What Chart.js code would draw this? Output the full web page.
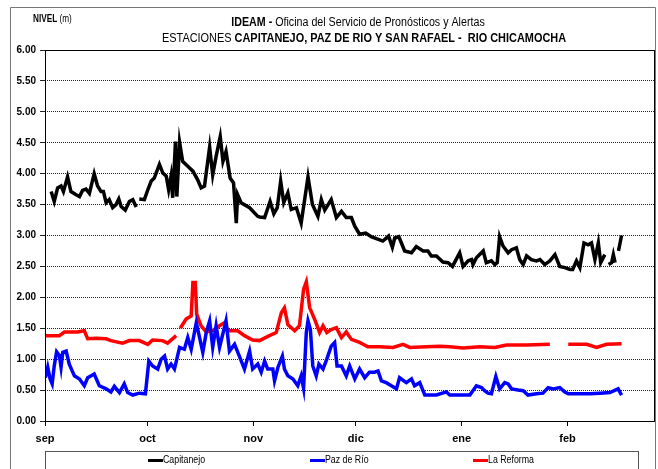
<!DOCTYPE html>
<html>
<head>
<meta charset="utf-8">
<script src="https://cdn.jsdelivr.net/npm/chart.js@4"></script>
<style>
  body { margin: 0; background: #fff; }
  canvas { display: block; }
</style>
</head>
<body>
<canvas id="grafica" width="658" height="469"></canvas>
<script>
// dias contados desde el 1 de septiembre
const inicioMes = [0, 30, 61, 91, 122, 153];
const etiquetasMes = ["sep", "oct", "nov", "dic", "ene", "feb"];
const nivelesY = [0, 0.5, 1, 1.5, 2, 2.5, 3, 3.5, 4, 4.5, 5, 5.5, 6];

// Capitanejo (negro)
const capDias = [1.8, 2.7, 3.7, 4.7, 5.4, 6.6, 7.6, 9.1, 10.1, 11.0, 12.0, 13.0, 14.4, 15.4, 16.4, 17.1, 17.9, 18.8, 19.8, 20.8, 21.6, 22.3, 23.5, 24.7, 25.7, 26.7, 27.1,
  27.6, 29.1, 30.1, 31.1, 32.0, 33.5, 34.5, 35.5, 36.2, 36.9, 37.4, 38.2, 38.6, 39.4, 40.3, 41.8, 43.3, 44.7, 45.7, 46.7, 48.2, 49.1, 50.1, 51.3, 52.1, 53.0, 54.2, 55.2,
  56.0, 56.4, 57.4, 59.9, 62.3, 62.8, 64.3, 65.9, 67.0, 68.0, 69.0, 69.9, 71.1, 72.1, 73.6, 75.0, 77.0, 78.3, 79.9, 80.9, 81.9, 83.8, 85.3, 86.8, 88.2, 89.7,
  90.7, 92.1, 93.9, 95.5, 97.0, 98.9, 100.6, 101.7, 102.4, 103.6, 105.3, 107.3, 108.7, 110.7, 112.1, 113.1, 114.6, 116.5, 118.0, 119.3, 121.4, 122.4, 123.9,
  124.9, 125.3, 126.3, 128.3, 129.2, 130.7, 131.7, 132.4, 133.1, 134.1, 135.6, 136.6, 138.0, 139.0, 140.0, 141.0, 142.4, 143.9, 144.9, 146.3, 147.8, 149.3,
  150.7, 152.2, 153.7, 154.5, 155.6, 156.6, 157.8, 159.0, 160.0, 161.0, 162.0, 162.7, 163.9, 164.4, 165.0, 165.9, 166.4, 166.9, 167.4, 167.9, 168.8];
const capNivel = [3.71, 3.55, 3.77, 3.80, 3.71, 3.95, 3.71, 3.66, 3.63, 3.73, 3.75, 3.68, 4.00, 3.80, 3.71, 3.71, 3.53, 3.58, 3.45, 3.50, 3.59, 3.47, 3.41, 3.55, 3.58, 3.46, null,
  3.59, 3.58, 3.74, 3.88, 3.93, 4.15, 4.01, 3.96, 3.74, 3.96, 3.61, 4.52, 3.63, 4.51, 4.20, 4.12, 4.04, 3.90, 3.77, 3.80, 4.43, 3.98, 4.28, 4.60, 4.20, 4.36, 3.93, 3.85,
  3.20, 3.66, 3.53, 3.45, 3.31, 3.30, 3.29, 3.55, 3.35, 3.45, 3.88, 3.53, 3.69, 3.42, 3.45, 3.20, 3.95, 3.50, 3.31, 3.58, 3.41, 3.58, 3.29, 3.39, 3.29, 3.29,
  3.15, 3.02, 3.04, 2.98, 2.95, 2.91, 2.99, 2.81, 2.96, 2.98, 2.75, 2.72, 2.82, 2.75, 2.75, 2.67, 2.67, 2.57, 2.56, 2.50, 2.72, 2.50, 2.59,
  2.61, 2.53, 2.64, 2.75, 2.56, 2.59, 2.53, 2.56, 2.98, 2.83, 2.72, 2.77, 2.80, 2.61, 2.53, 2.67, 2.61, 2.59, 2.61, 2.53, 2.59, 2.69,
  2.50, 2.48, 2.45, 2.45, 2.59, 2.48, 2.88, 2.85, 2.88, 2.61, 2.88, 2.56, 2.69, null, 2.53, 2.56, 2.69, 2.56, null, 2.75, 3.00];

// Paz de Rio (azul)
const pazDias = [0.1, 0.8, 1.5, 2.1, 2.7, 3.4, 4.2, 4.7, 5.2, 6.2, 7.1, 8.6, 10.1, 11.5, 12.5, 14.4, 15.9, 17.9, 19.3, 20.3, 21.8, 23.2, 24.2, 25.7, 27.6, 29.4,
  30.4, 31.5, 33.0, 34.0, 35.0, 35.9, 36.9, 37.9, 39.4, 40.8, 41.8, 42.8, 44.3, 46.2, 47.2, 48.2, 49.1, 50.1, 51.1, 53.0, 54.0, 55.5, 56.9, 58.4, 59.9, 60.8,
  62.3, 63.3, 64.3, 65.2, 66.7, 67.2, 68.2, 69.5, 70.1, 71.1, 72.6, 74.0, 75.0, 75.7, 76.5, 77.0, 77.7, 78.4, 79.4, 80.2, 81.4, 82.5, 83.8, 84.8, 85.5, 86.8,
  88.2, 89.2, 90.7, 92.1, 93.6, 95.0, 96.5, 97.5, 98.5, 99.9, 101.4, 102.9, 103.8, 105.8, 107.3, 108.2, 109.7, 111.2, 114.6, 117.5, 118.5, 124.4, 126.3,
  127.8, 128.7, 129.7, 130.7, 132.0, 133.1, 134.6, 135.6, 136.6, 138.5, 140.0, 141.4, 143.9, 145.8, 147.3, 148.8, 150.7, 152.2, 153.2, 156.6, 159.5, 162.5,
  165.4, 167.8, 168.8];
const pazNivel = [0.70, 0.87, 0.68, 0.60, 0.89, 1.12, 1.06, 0.87, 1.11, 1.13, 0.92, 0.73, 0.68, 0.57, 0.70, 0.76, 0.57, 0.52, 0.47, 0.56, 0.46, 0.60, 0.46, 0.42, 0.45, 0.44,
  0.97, 0.89, 0.84, 1.00, 1.05, 0.84, 0.92, 0.84, 1.19, 1.16, 1.35, 1.16, 1.59, 1.11, 1.43, 1.62, 1.19, 1.54, 1.19, 1.62, 1.13, 1.24, 1.05, 0.84, 1.13, 0.84,
  0.92, 0.79, 0.97, 0.84, 0.84, 0.65, 0.87, 1.05, 0.84, 0.73, 0.68, 0.57, 0.73, 0.53, 1.43, 1.62, 1.48, 0.89, 0.73, 0.92, 0.84, 1.00, 1.21, 1.27, 0.89, 0.89,
  0.73, 0.89, 0.68, 0.84, 0.70, 0.79, 0.79, 0.81, 0.65, 0.62, 0.57, 0.52, 0.70, 0.62, 0.68, 0.57, 0.62, 0.42, 0.42, 0.47, 0.42, 0.42, 0.57,
  0.54, 0.49, 0.45, 0.44, 0.72, 0.52, 0.62, 0.60, 0.52, 0.50, 0.49, 0.42, 0.44, 0.45, 0.54, 0.52, 0.54, 0.47, 0.44, 0.44, 0.44, 0.45,
  0.46, 0.52, 0.42];

// La Reforma (rojo)
const refDias = [0, 4.2, 5.7, 9.5, 11.5, 12.5, 15.0, 17.9, 19.3, 22.7, 24.7, 27.6, 30.1, 31.5, 34.4, 35.9, 38.4, 39.0, 39.6, 41.3, 42.8, 43.3, 44.0, 44.4,
  45.7, 47.2, 49.1, 51.1, 52.6, 53.5, 56.4, 58.4, 60.8, 62.8, 65.7, 67.7, 69.2, 70.1, 71.1, 73.1, 74.5, 75.7, 76.5, 77.5, 78.9, 80.4, 81.4, 82.5, 83.8,
  85.3, 86.8, 88.2, 89.7, 92.1, 94.5, 98.0, 101.9, 104.8, 106.8, 111.7, 115.6, 118.5, 122.4, 127.3, 131.7, 135.1, 141.0, 147.8, 152.0, 153.2, 158.6,
  161.5, 164.4, 168.8];
const refNivel = [1.38, 1.38, 1.44, 1.44, 1.46, 1.33, 1.34, 1.33, 1.30, 1.26, 1.30, 1.30, 1.24, 1.31, 1.30, 1.26, 1.38, null, 1.50, 1.65, 1.70, 2.24, 2.24, 1.73,
  1.54, 1.44, 1.46, 1.54, 1.59, 1.46, 1.46, 1.38, 1.31, 1.30, 1.38, 1.43, 1.75, 1.83, 1.56, 1.46, 1.54, 2.13, 2.25, 1.83, 1.65, 1.43, 1.54, 1.43, 1.48,
  1.51, 1.35, 1.44, 1.32, 1.27, 1.20, 1.20, 1.19, 1.24, 1.19, 1.20, 1.21, 1.20, 1.18, 1.20, 1.19, 1.23, 1.23, 1.24, null, 1.24, 1.24,
  1.19, 1.24, 1.25];

const fuente = "'Liberation Sans', Arial, sans-serif";

const puntos = (dias, niveles) => dias.map((d, i) => ({ x: d, y: niveles[i] }));

const series = [
  { label: "Capitanejo", data: puntos(capDias, capNivel), borderColor: "#000000" },
  { label: "Paz de Río", data: puntos(pazDias, pazNivel), borderColor: "#0000ff" },
  { label: "La Reforma", data: puntos(refDias, refNivel), borderColor: "#ff0000" }
];

// textos con partes en negrita, estrechados a lo ancho (Arial Narrow del original)
function textoMixto(ctx, partes, x, y, size, align, sx) {
  let total = 0;
  partes.forEach(p => {
    ctx.font = (p.bold ? "bold " : "") + size + "px " + fuente;
    p.w = ctx.measureText(p.t).width * sx;
    total += p.w;
  });
  let cx = align === "center" ? x - total / 2 : x;
  partes.forEach(p => {
    ctx.font = (p.bold ? "bold " : "") + size + "px " + fuente;
    ctx.save();
    ctx.translate(cx, y);
    ctx.scale(sx, 1);
    ctx.fillText(p.t, 0, 0);
    ctx.restore();
    cx += p.w;
  });
}

const decorado = {
  id: "decorado",
  afterDraw(chart) {
    const ctx = chart.ctx;
    const a = chart.chartArea;
    ctx.save();
    // marco exterior
    ctx.strokeStyle = "#777";
    ctx.lineWidth = 1;
    ctx.beginPath();
    ctx.moveTo(10.5, 480);
    ctx.lineTo(10.5, 7.5);
    ctx.lineTo(655.5, 7.5);
    ctx.lineTo(655.5, 480);
    ctx.stroke();
    // caja del area de graficas
    ctx.strokeStyle = "#000";
    ctx.strokeRect(Math.round(a.left) + 0.5, Math.round(a.top) + 0.5, Math.round(a.right - a.left), Math.round(a.bottom - a.top));
    // titulos
    ctx.fillStyle = "#000";
    ctx.textBaseline = "middle";
    textoMixto(ctx, [{ t: "NIVEL", bold: true }, { t: " (m)", bold: false }], 33, 19, 10, "left", 0.82);
    textoMixto(ctx, [{ t: "IDEAM -", bold: true }, { t: " Oficina del Servicio de Pronósticos y Alertas", bold: false }], 358, 23, 12, "center", 0.89);
    textoMixto(ctx, [{ t: "ESTACIONES ", bold: false }, { t: "CAPITANEJO, PAZ DE RIO Y SAN RAFAEL -  RIO CHICAMOCHA", bold: true }], 364, 39, 12, "center", 0.91);
    // leyenda
    ctx.strokeStyle = "#555";
    ctx.strokeRect(45.5, 451.5, 593, 30);
    const xs = [148, 310, 473];
    series.forEach((s, i) => {
      ctx.fillStyle = s.borderColor;
      ctx.fillRect(xs[i], 459, 15, 3);
      ctx.fillStyle = "#000";
      textoMixto(ctx, [{ t: s.label, bold: false }], xs[i] + 15, 460, 11, "left", 0.8);
    });
    ctx.restore();
  }
};

new Chart(document.getElementById("grafica"), {
  type: "line",
  data: {
    datasets: series.map(s => ({
      label: s.label,
      data: s.data,
      borderColor: s.borderColor,
      backgroundColor: s.borderColor,
      borderWidth: 3.5,
      pointRadius: 0,
      tension: 0,
      spanGaps: false,
      fill: false
    }))
  },
  options: {
    responsive: false,
    animation: false,
    layout: { padding: { top: 50, right: 4, left: 0, bottom: 0 } },
    plugins: {
      legend: { display: false },
      title: { display: false },
      tooltip: { enabled: false }
    },
    scales: {
      x: {
        type: "linear",
        min: 0,
        max: 178.3,
        afterBuildTicks: scale => { scale.ticks = inicioMes.map(v => ({ value: v })); },
        afterFit: scale => { scale.height = 48; },
        ticks: {
          autoSkip: false,
          maxRotation: 0,
          padding: 6,
          color: "#000",
          font: { family: fuente, size: 11, weight: "bold" },
          callback: v => etiquetasMes[inicioMes.indexOf(v)]
        },
        grid: { drawOnChartArea: false, drawTicks: true, tickLength: 5, color: "#000" },
        border: { display: false }
      },
      y: {
        min: 0,
        max: 6,
        afterBuildTicks: scale => { scale.ticks = nivelesY.map(v => ({ value: v })); },
        afterFit: scale => { scale.width = 45; },
        ticks: {
          padding: 4,
          color: "#000",
          font: { family: fuente, size: 10, weight: "bold" },
          callback: v => v.toFixed(2)
        },
        grid: { color: "#222", lineWidth: 1, tickLength: 5 },
        border: { display: false, dash: [1, 1] }
      }
    }
  },
  plugins: [decorado]
});
</script>
</body>
</html>
